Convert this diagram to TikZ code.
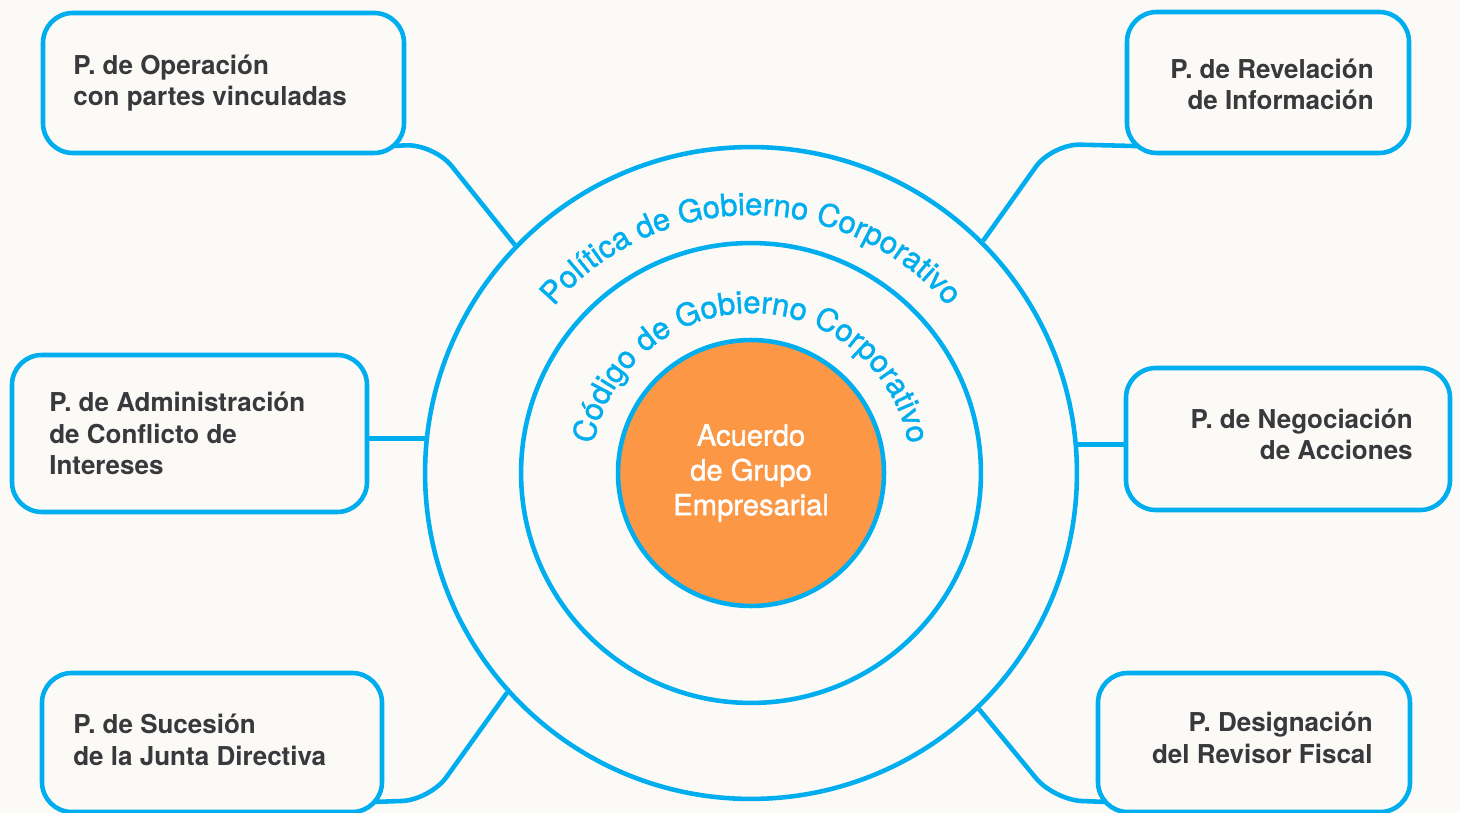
\documentclass[tikz,border=0pt]{standalone}
\usepackage{fontspec}
\setmainfont{TeX Gyre Heros}
\newfontfamily\medio{TeX Gyre Heros}[FakeBold=1.4]
\usepackage{tikz}
\usetikzlibrary{fit,backgrounds,decorations.text}
\definecolor{azul}{HTML}{00AEEF}
\definecolor{naranja}{HTML}{FB9745}
\definecolor{tinta}{HTML}{38383D}
\definecolor{fondo}{HTML}{FBFAF6}
\tikzset{
    caja/.style={draw=azul, line width=2.6pt, rounded corners=17pt, fill=fondo, inner sep=0pt},
    anillo/.style={circle, draw=azul, line width=2.6pt, inner sep=0pt},
    enlace/.style={draw=azul, line width=2.6pt, rounded corners=16pt},
    etiqueta/.style={text=tinta, font=\fontsize{14.8}{18.1}\selectfont\bfseries, inner sep=0pt},
    arco/.style={decorate, decoration={text along path, text align=center, text={#1}}},
}
\newcommand\arcofuente{\medio\fontsize{17.6}{20}\selectfont\color{azul}}

\begin{document}
\begin{tikzpicture}[x=0.02cm, y=0.02cm]
    \useasboundingbox (0,0) rectangle (1460,-813);
    %fondo
    \begin{scope}[on background layer]
        \fill[fondo] (0,0) rectangle (1460,-813);
    \end{scope}
    %circulos
    \node[anillo, minimum size=13.04cm] (externo) at (751,-473) {};
    \node[anillo, minimum size=9.2cm] (medio) at (751,-473) {};
    \node[anillo, fill=naranja, minimum size=5.32cm, text=white, align=center,
        font=\medio\fontsize{16.6}{19.8}\selectfont] (acuerdo) at (751,-473) {Acuerdo\\de Grupo\\Empresarial};
    %textos curvos
    \path[arco={|\arcofuente|Política de Gobierno Corporativo}]
        (externo.center) ++(160:258) arc[start angle=160, end angle=20, radius=258];
    \path[arco={|\arcofuente|Código de Gobierno Corporativo}]
        (medio.center) ++(172:160) arc[start angle=172, end angle=8, radius=160];
    %cajas
    \node[caja, fit={(43,-13) (404,-153)}] (b1) {};
    \node[caja, fit={(1127,-12) (1409,-153)}] (b2) {};
    \node[caja, fit={(12,-355) (367,-512)}] (b3) {};
    \node[caja, fit={(1126,-368) (1450,-510)}] (b4) {};
    \node[caja, fit={(42,-673) (382,-812)}] (b5) {};
    \node[caja, fit={(1098,-673) (1410,-812)}] (b6) {};
    %etiquetas (base = ultima linea)
    \node[etiqueta, anchor=base west, align=left] (t1) at (73,-106) {P. de Operación\\con partes vinculadas};
    \node[etiqueta, anchor=base east, align=right] (t2) at (1374,-110) {P. de Revelación\\de Información};
    \node[etiqueta, anchor=base west, align=left] (t3) at (49,-475) {P. de Administración\\de Conflicto de\\Intereses};
    \node[etiqueta, anchor=base east, align=right] (t4) at (1413,-460) {P. de Negociación\\de Acciones};
    \node[etiqueta, anchor=base west, align=left] (t5) at (73,-765) {P. de Sucesión\\de la Junta Directiva};
    \node[etiqueta, anchor=base east, align=right] (t6) at (1373,-763) {P. Designación\\del Revisor Fiscal};
    %codos
    \coordinate (q1) at (434,-144);
    \coordinate (q2) at (1052,-144);
    \coordinate (q5) at (430,-800);
    \coordinate (q6) at (1054,-800);
    %enlaces
    \begin{scope}[on background layer]
        \draw[enlace] ([shift={(-20,9)}]b1.south east) -- (q1) -- (externo.136.6);
        \draw[enlace] ([shift={(20,9)}]b2.south west) -- (q2) -- (externo.45.5);
        \draw[enlace] ([shift={(-20,12)}]b5.south east) -- (q5) -- (externo.222.2);
        \draw[enlace] ([shift={(20,12)}]b6.south west) -- (q6) -- (externo.314.9);
        \draw[enlace] (b3.east |- externo.174.5) -- (externo.174.5);
        \draw[enlace] (externo.5.5) -- (b4.west |- externo.5.5);
    \end{scope}
\end{tikzpicture}
\end{document}
